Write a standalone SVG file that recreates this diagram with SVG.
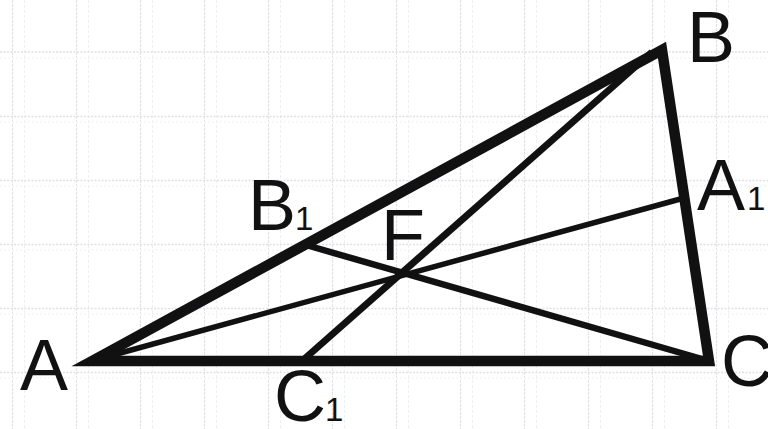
<svg xmlns="http://www.w3.org/2000/svg" width="768" height="429" viewBox="0 0 768 429">
<style>
.g1{stroke:#e2e3ec;stroke-width:1.2;stroke-dasharray:3 1;fill:none}
.g2{stroke:#eeeff4;stroke-width:1;stroke-dasharray:3 2;fill:none}
.gh{stroke:#dfe0ea;stroke-width:1.4;stroke-dasharray:2 1.5;fill:none}
.gh2{stroke:#f0f0f5;stroke-width:1;stroke-dasharray:2 2;fill:none}
.side{stroke:#111;fill:none;stroke-linejoin:miter;stroke-miterlimit:30}
.ce{stroke:#111;fill:none;stroke-linecap:butt}
text{font-family:"Liberation Sans",Arial,sans-serif;fill:#111}
.big{font-size:72px}
.sub{font-size:33px}
</style>
<rect width="768" height="429" fill="#fff"/>
<g id="grid">
<path class="g1" d="M12.5 0V429M76.5 0V429M140.5 0V429M204.5 0V429M268.5 0V429M332.5 0V429M396.5 0V429M460.5 0V429M524.5 0V429M588.5 0V429M652.5 0V429M716.5 0V429"/>
<path class="g2" d="M24.5 0V429M88.5 0V429M152.5 0V429M216.5 0V429M280.5 0V429M344.5 0V429M408.5 0V429M472.5 0V429M536.5 0V429M600.5 0V429M664.5 0V429M728.5 0V429"/>
<path class="gh" d="M0 52H768M0 116.5H768M0 180.5H768M0 244.5H768M0 308.5H768M0 372.5H768"/>
<path class="gh2" d="M0 58H768M0 122H768M0 186H768M0 250H768M0 314H768M0 378H768"/>
</g>
<g id="connectors">
<path id="triangle" class="side" stroke-width="10.5" d="M92 361L662 50L709 361Z"/>
<line id="BC1" class="ce" stroke-width="7" x1="652" y1="52" x2="302" y2="361"/>
<line id="CB1" class="ce" stroke-width="6.5" x1="709" y1="361" x2="306" y2="245"/>
<line id="AA1" class="ce" stroke-width="5.5" x1="95" y1="360" x2="684" y2="198"/>
</g>
<g id="node-A"><text class="big" x="20" y="390">A</text></g>
<g id="node-B"><text class="big" x="687" y="62">B</text></g>
<g id="node-C"><text class="big" x="721" y="386">C</text></g>
<g id="node-A1"><text class="big" x="697" y="210">A</text><text class="sub" x="747" y="210">1</text></g>
<g id="node-B1"><text class="big" x="248" y="230">B</text><text class="sub" x="295" y="230">1</text></g>
<g id="node-C1"><text class="big" x="274" y="421">C</text><text class="sub" x="325" y="421">1</text></g>
<g id="node-F"><text class="big" x="381" y="260">F</text></g>
</svg>
